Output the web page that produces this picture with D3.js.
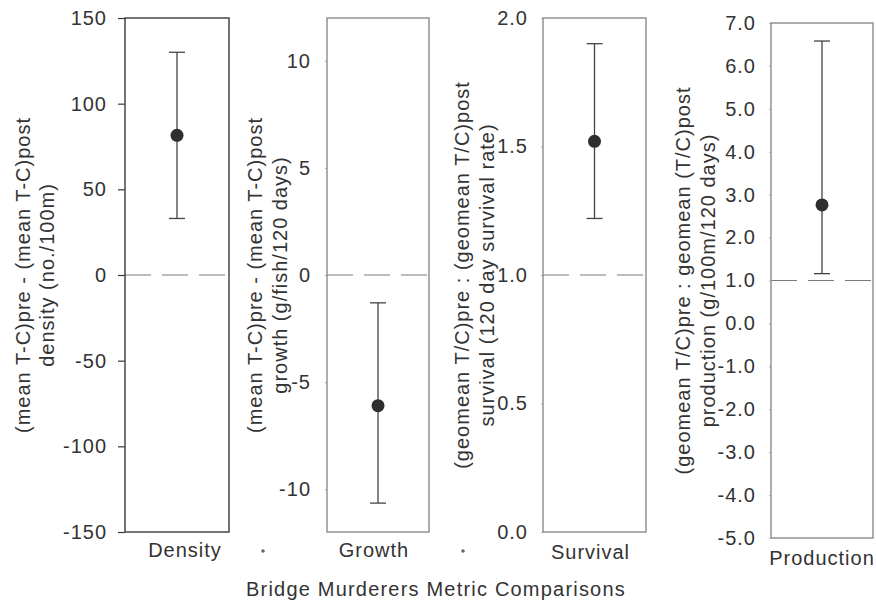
<!DOCTYPE html>
<html>
<head>
<meta charset="utf-8">
<script src="https://cdn.jsdelivr.net/npm/d3@7"></script>
<style>
  html, body { margin: 0; padding: 0; background: #fff; }
  svg { display: block; }
  text { font-family: "Liberation Sans", Arial, sans-serif; fill: #333; }
</style>
</head>
<body>
<svg id="chart" width="876" height="601"></svg>
<script>
// ---- data ----
const categories = ["Density", "Growth", "Survival", "Production"];
const means      = [81.5, -6.1, 1.52, 2.76];
const upperCI    = [130, -1.3, 1.90, 6.58];
const lowerCI    = [33, -10.65, 1.22, 1.16];
const refValues  = [0, 0, 1.0, 1.0];
const yDomains   = [[-150, 150], [-12, 12], [0, 2], [-5, 7]];
const tickValues = [
  [-150, -100, -50, 0, 50, 100, 150],
  [-10, -5, 0, 5, 10],
  [0, 0.5, 1.0, 1.5, 2.0],
  [-5, -4, -3, -2, -1, 0, 1, 2, 3, 4, 5, 6, 7]
];
const tickFormats = ["d", "d", ".1f", ".1f"];
const yTitles = [
  ["(mean T-C)pre - (mean T-C)post", "density (no./100m)"],
  ["(mean T-C)pre - (mean T-C)post", "growth (g/fish/120 days)"],
  ["(geomean T/C)pre : (geomean T/C)post", "survival (120 day survival rate)"],
  ["(geomean T/C)pre : geomean (T/C)post", "production (g/100m/120 days)"]
];
const xTitle = "Bridge Murderers Metric Comparisons";

// ---- layout (pixels) ----
const layout = [
  { x0: 125, x1: 229, y0: 18, y1: 532, tickSize: 7, tickPad: 11, frame: "#3a3a3a", tickColor: "#3a3a3a", t1: 23, t2: 47, labY: 557, labDx: 8 },
  { x0: 327, x1: 429, y0: 18, y1: 532, tickSize: 2, tickPad: 14, frame: "#8a8a8a", tickColor: "#bbb", t1: 255, t2: 280, labY: 557, labDx: -4 },
  { x0: 543, x1: 646, y0: 18, y1: 532, tickSize: 2, tickPad: 13, frame: "#8a8a8a", tickColor: "#bbb", t1: 462, t2: 487, labY: 559, labDx: -4 },
  { x0: 771, x1: 873, y0: 23, y1: 538, tickSize: 2, tickPad: 13, frame: "#8a8a8a", tickColor: "#bbb", t1: 683, t2: 708, labY: 565, labDx: 0 }
];

const svg = d3.select("#chart");
const FS = 20, LS = 1;

categories.forEach((cat, i) => {
  const L = layout[i];
  const y = d3.scaleLinear().domain(yDomains[i]).range([L.y1, L.y0]);
  const x = d3.scaleBand().domain([cat]).range([L.x0, L.x1]);
  const cx = x(cat) + x.bandwidth() / 2;
  const g = svg.append("g");
  const fmt = d3.format(tickFormats[i]);

  // axis
  const ax = g.append("g")
    .attr("transform", `translate(${L.x0},0)`)
    .call(d3.axisLeft(y).tickValues(tickValues[i])
      .tickFormat(d => fmt(d).replace("\u2212", "-"))
      .tickSize(L.tickSize).tickPadding(L.tickPad));
  ax.select(".domain").remove();
  ax.selectAll(".tick line").attr("stroke", L.tickColor).attr("stroke-width", 1.2);
  ax.selectAll(".tick text")
    .style("font-size", FS + "px")
    .style("letter-spacing", LS + "px")
    .attr("fill", "#333")
    .attr("font-family", null);

  // reference line (dashed)
  g.append("line")
    .attr("x1", L.x0).attr("x2", L.x1)
    .attr("y1", y(refValues[i])).attr("y2", y(refValues[i]))
    .attr("stroke", "#7a7a7a").attr("stroke-width", 1.2)
    .attr("stroke-dasharray", "26,11");

  // frame
  g.append("rect")
    .attr("x", L.x0).attr("y", L.y0)
    .attr("width", L.x1 - L.x0).attr("height", L.y1 - L.y0)
    .attr("fill", "none").attr("stroke", L.frame).attr("stroke-width", 1.4);

  // error bar
  const eb = g.append("g").attr("stroke", "#444").attr("stroke-width", 1.3);
  eb.append("line").attr("x1", cx).attr("x2", cx).attr("y1", y(upperCI[i])).attr("y2", y(lowerCI[i]));
  eb.append("line").attr("x1", cx - 8).attr("x2", cx + 8).attr("y1", y(upperCI[i])).attr("y2", y(upperCI[i]));
  eb.append("line").attr("x1", cx - 8).attr("x2", cx + 8).attr("y1", y(lowerCI[i])).attr("y2", y(lowerCI[i]));

  // point
  g.append("circle").attr("cx", cx).attr("cy", y(means[i])).attr("r", 6.5).attr("fill", "#2e2e2e");

  // category label
  g.append("text")
    .attr("x", cx + L.labDx).attr("y", L.labY)
    .attr("text-anchor", "middle")
    .style("font-size", FS + "px").style("letter-spacing", LS + "px")
    .text(cat);

  // y title (two lines, rotated)
  const ym = (L.y0 + L.y1) / 2;
  [L.t1, L.t2].forEach((tx, k) => {
    g.append("text")
      .attr("transform", `translate(${tx},${ym}) rotate(-90)`)
      .attr("text-anchor", "middle")
      .attr("dy", "0.35em")
      .style("font-size", FS + "px").style("letter-spacing", LS + "px")
      .text(yTitles[i][k]);
  });
});

// small separator marks between category labels
[263, 463].forEach(mx => {
  svg.append("circle").attr("cx", mx).attr("cy", 551).attr("r", 1.8).attr("fill", "#666");
});

// x title
svg.append("text")
  .attr("x", 436).attr("y", 596)
  .attr("text-anchor", "middle")
  .style("font-size", FS + "px").style("letter-spacing", "1.2px")
  .text(xTitle);
</script>
</body>
</html>
